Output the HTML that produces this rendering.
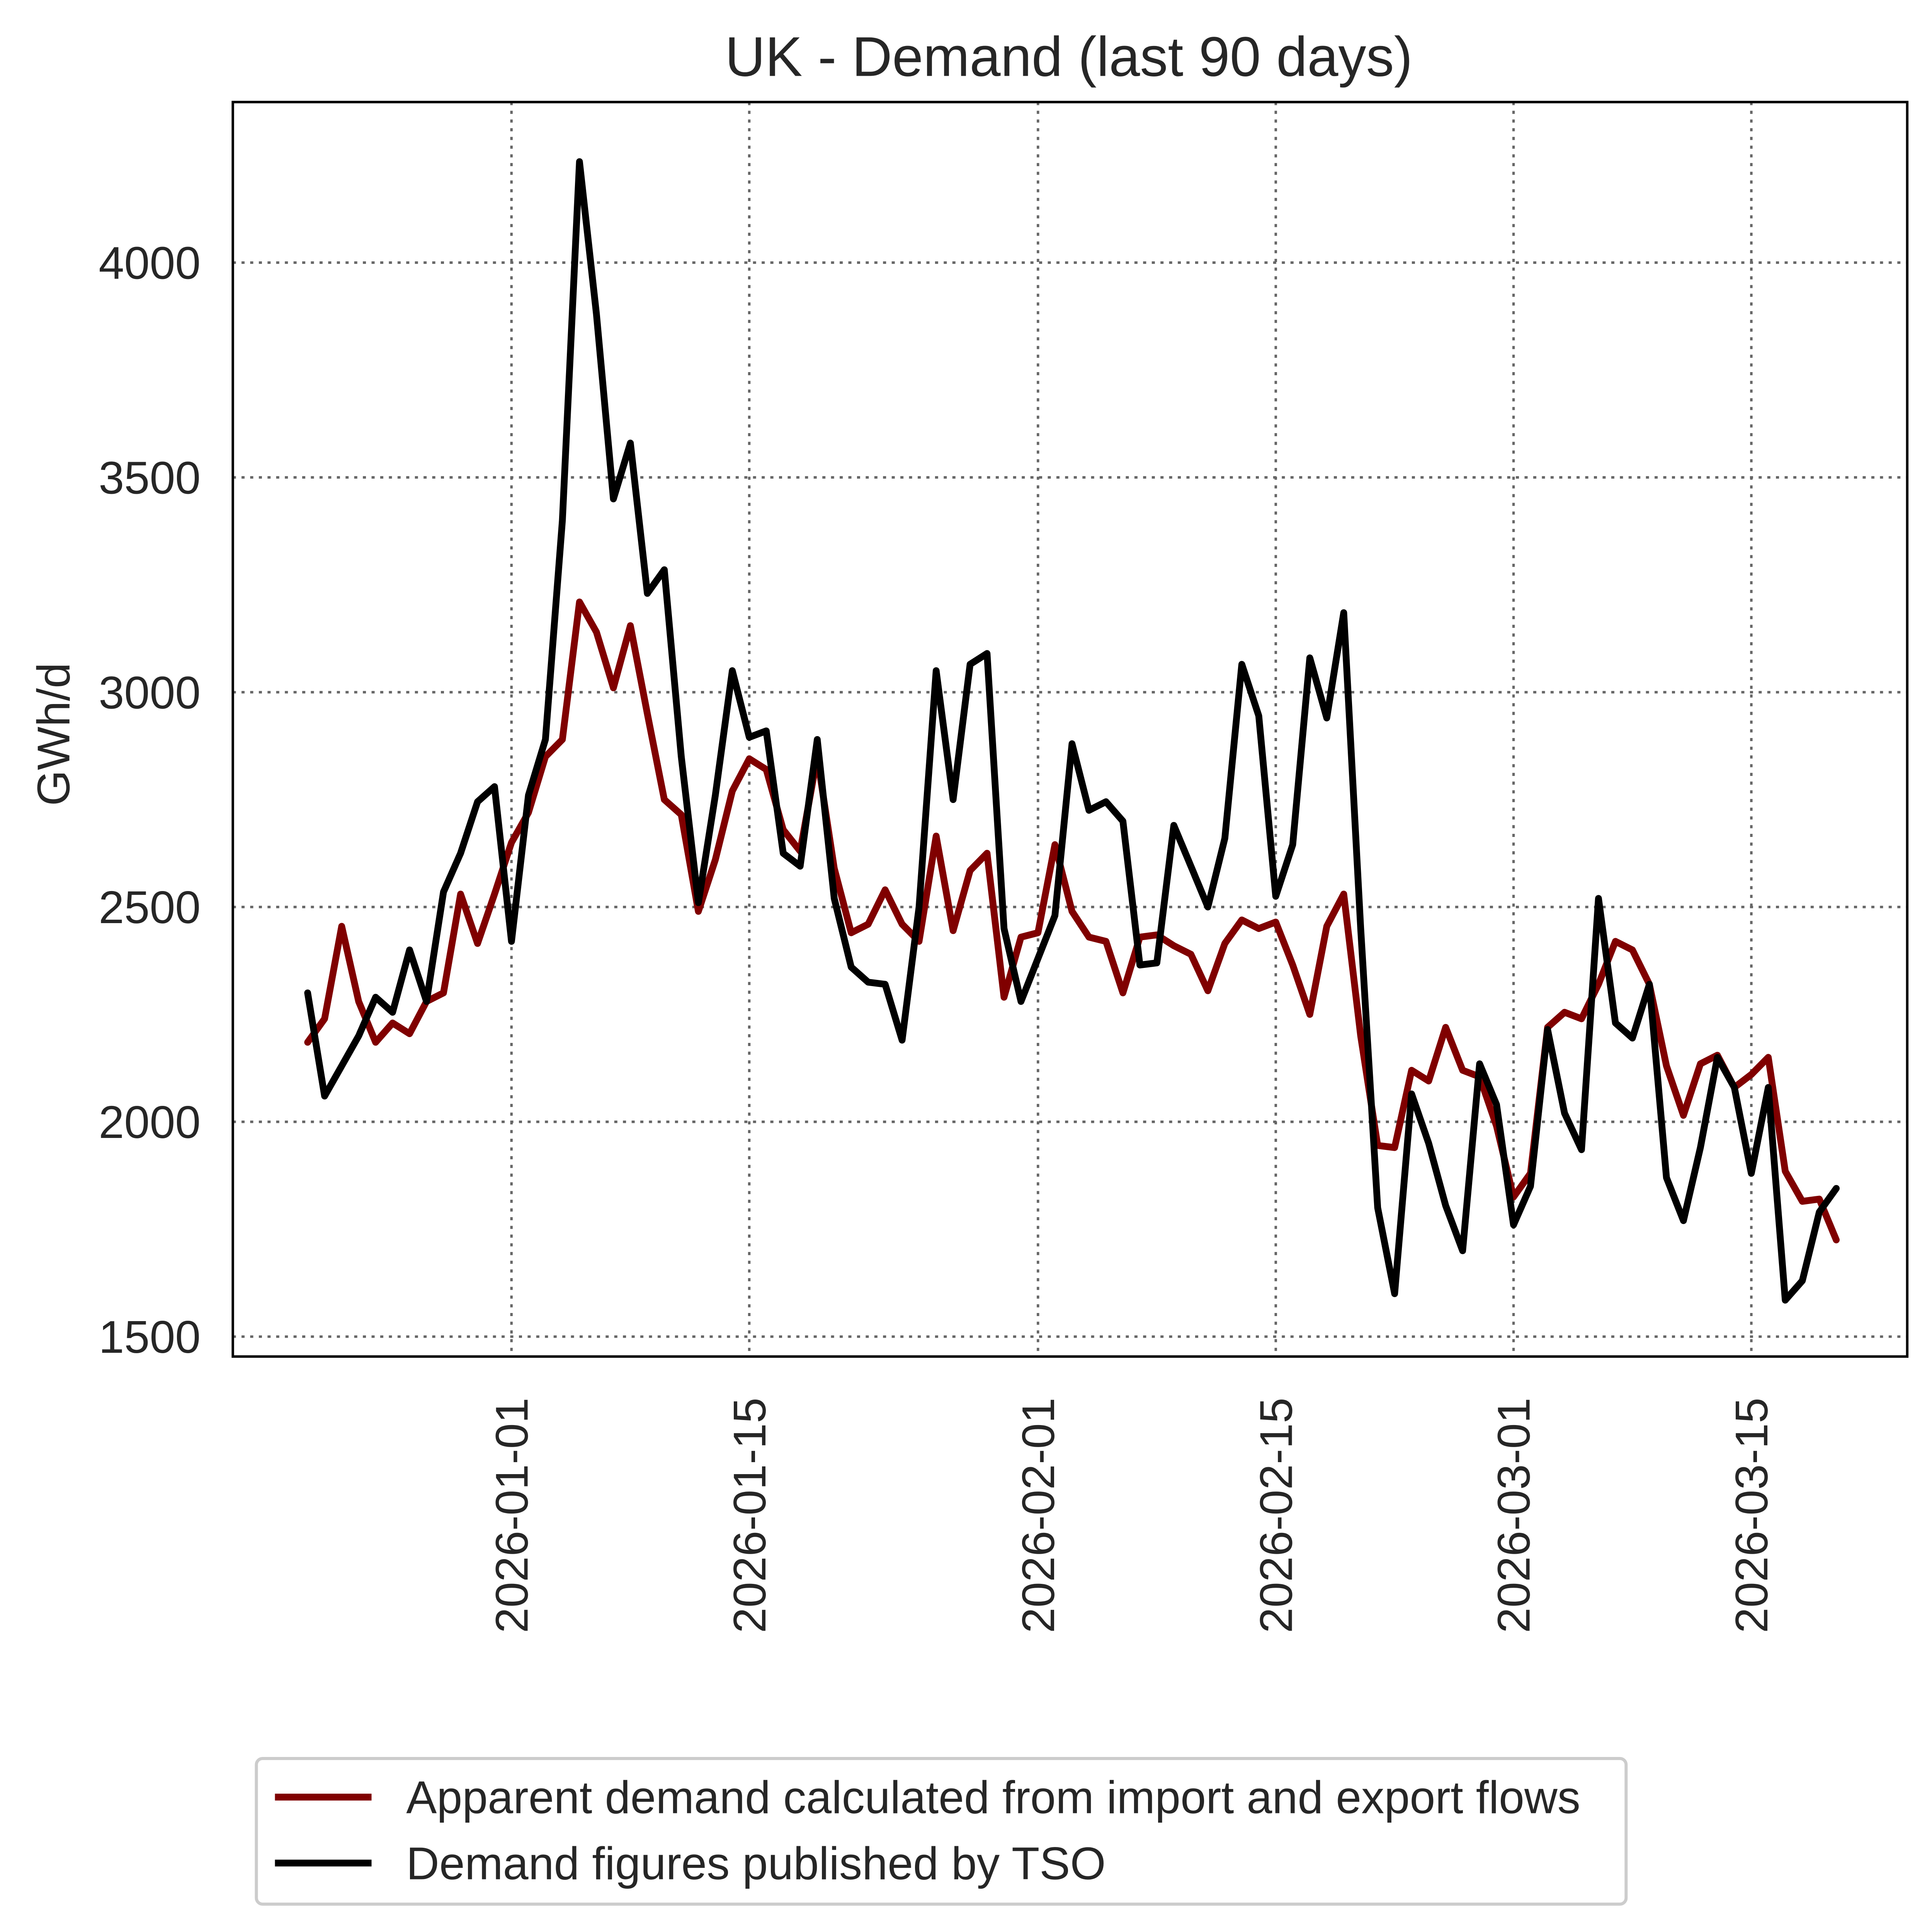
<!DOCTYPE html>
<html><head><meta charset="utf-8">
<style>
html,body{margin:0;padding:0;background:#fff;overflow:hidden;width:100vw;height:100vh;}
svg{display:block;position:absolute;left:0;top:0;width:100vw;height:100vh;font-family:"Liberation Sans",Arial,sans-serif;}
</style></head>
<body>
<svg id="chart" viewBox="0 0 1560 1552.4" preserveAspectRatio="none" xmlns="http://www.w3.org/2000/svg">
<rect width="1560" height="1553" fill="#fff"/>
<text x="863" y="61" font-size="45" text-anchor="middle" fill="#262626">UK - Demand (last 90 days)</text>
<text x="0" y="0" font-size="37" text-anchor="middle" fill="#262626" transform="translate(56,590) rotate(-90)">GWh/d</text>
<g id="grid"></g>
<g id="series"></g>
<rect x="188" y="82" width="1352" height="1008" fill="none" stroke="#000" stroke-width="2"/>
<g id="ticks"></g>
<g>
<rect x="207" y="1413" width="1106" height="117" rx="5" fill="#fff" stroke="#ccc" stroke-width="2.5"/>
<line x1="222" y1="1444" x2="300" y2="1444" stroke="#800000" stroke-width="5.5"/>
<text x="328" y="1457" font-size="37" fill="#262626">Apparent demand calculated from import and export flows</text>
<line x1="222" y1="1497" x2="300" y2="1497" stroke="#000" stroke-width="5.5"/>
<text x="328" y="1510" font-size="37" fill="#262626">Demand figures published by TSO</text>
</g>
</svg>
<script>
const startDay = -12;
const apparentValues = [2185,2240,2455,2280,2185,2230,2205,2280,2300,2530,2415,2530,2650,2720,2850,2890,3210,3140,3010,3155,2950,2750,2715,2490,2610,2770,2845,2820,2680,2630,2850,2590,2440,2460,2540,2460,2420,2665,2445,2585,2625,2290,2430,2440,2645,2490,2430,2420,2300,2430,2435,2410,2390,2305,2415,2470,2450,2465,2365,2250,2455,2530,2200,1945,1940,2120,2095,2220,2120,2105,1990,1825,1880,2220,2255,2240,2320,2420,2400,2320,2130,2015,2135,2155,2080,2110,2150,1885,1815,1820,1725];
const tsoValues = [2300,2060,2130,2200,2290,2255,2400,2280,2535,2625,2745,2780,2420,2760,2890,3400,4235,3880,3450,3580,3230,3285,2850,2510,2760,3050,2895,2910,2625,2595,2890,2520,2360,2325,2320,2190,2500,3050,2750,3065,3090,2450,2280,2380,2480,2880,2725,2745,2700,2365,2370,2690,2595,2500,2660,3065,2945,2525,2645,3080,2940,3185,2450,1800,1600,2065,1950,1805,1700,2135,2040,1760,1850,2215,2020,1935,2520,2230,2195,2320,1870,1770,1940,2150,2080,1880,2080,1585,1630,1790,1845];
const yTicks = [1500,2000,2500,3000,3500,4000];
const xTickDays = [0,14,31,45,59,73];
const xTickLabels = ["2026-01-01","2026-01-15","2026-02-01","2026-02-15","2026-03-01","2026-03-15"];

const NS="http://www.w3.org/2000/svg";
const xScale = d => 413 + (d)*13.714;
const yScale = v => 1074 - (v-1500)*0.3452;
function mk(tag, attrs, parent){const e=document.createElementNS(NS,tag);for(const k in attrs)e.setAttribute(k,attrs[k]);parent.appendChild(e);return e;}
const grid=document.getElementById('grid'), ticks=document.getElementById('ticks'), series=document.getElementById('series');
yTicks.forEach(v=>{
  const y=yScale(v);
  const g=mk('line',{x1:188,x2:1540,y1:y,y2:y,stroke:'#666','stroke-width':2,'stroke-dasharray':'2.5,4.5'},grid);
  
  
  const t=mk('text',{x:162,y:y+13,'font-size':37,'text-anchor':'end',fill:'#262626'},ticks);
  
  
  t.textContent=v;
});
xTickDays.forEach((d,i)=>{
  const x=xScale(d);
  const g=mk('line',{x1:x,x2:x,y1:82,y2:1090,stroke:'#666','stroke-width':2,'stroke-dasharray':'2.5,4.5'},grid);
  
  
  const t=mk('text',{x:0,y:0,'font-size':37,'text-anchor':'end',fill:'#262626',transform:`translate(${x+13},1123) rotate(-90)`},ticks);
  
  
  t.textContent=xTickLabels[i];
});
function line(vals,color,name){
  const pts=vals.map((v,i)=>xScale(startDay+i).toFixed(1)+','+yScale(v).toFixed(1)).join(' ');
  const p=mk('polyline',{points:pts,fill:'none',stroke:color,'stroke-width':5.5,'stroke-linejoin':'round','stroke-linecap':'round'},series);
  
  
}
line(apparentValues,'#800000','apparent-demand-line');
line(tsoValues,'#000000','tso-demand-line');
</script>
</body></html>
